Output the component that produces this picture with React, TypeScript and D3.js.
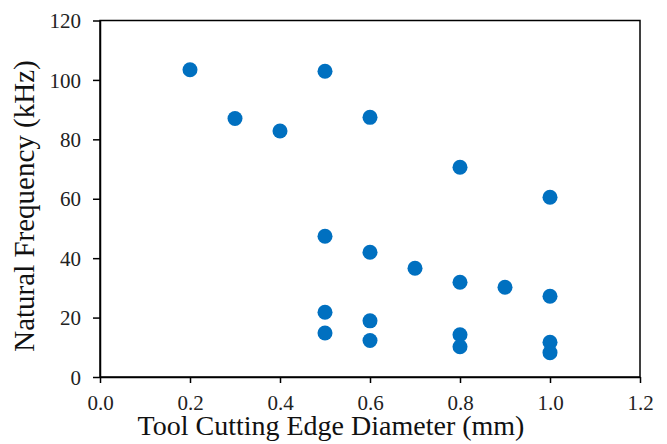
import { useEffect, useRef } from 'react'
import * as d3 from 'd3'

// tool cutting edge diameter (mm) and natural frequency (kHz)
const diameters = [0.2, 0.3, 0.4, 0.5, 0.6, 0.8, 1.0, 0.5, 0.6, 0.7, 0.8, 0.9, 1.0, 0.5, 0.5, 0.6, 0.6, 0.8, 0.8, 1.0, 1.0]
const frequencies = [103.4, 87, 82.8, 102.9, 87.4, 70.6, 60.5, 47.4, 42, 36.6, 31.9, 30.2, 27.2, 21.8, 14.8, 18.9, 12.3, 14.2, 10.2, 11.7, 8.2]
const xTicks = [0, 0.2, 0.4, 0.6, 0.8, 1.0, 1.2]
const yTicks = [0, 20, 40, 60, 80, 100, 120]

const W = 667
const H = 444
const margin = { left: 100, right: 27, top: 20.5, bottom: 67 }
const FONT = 'Liberation Serif, Times New Roman, serif'

export default function App() {
    const ref = useRef<SVGSVGElement>(null)

    useEffect(() => {
        const svg = d3.select(ref.current)
        svg.selectAll('*').remove()

        const x = d3.scaleLinear().domain([0, 1.2]).range([margin.left, W - margin.right])
        const y = d3.scaleLinear().domain([0, 120]).range([H - margin.bottom, margin.top])

        // frame
        svg.append('rect')
            .attr('x', x(0)).attr('y', y(120))
            .attr('width', x(1.2) - x(0)).attr('height', y(0) - y(120))
            .attr('fill', 'none').attr('stroke', '#000').attr('stroke-width', 1.5)

        const xAxis = svg.append('g')
            .attr('transform', `translate(0,${y(0)})`)
            .call(d3.axisBottom(x).tickValues(xTicks).tickFormat(d3.format('.1f')).tickSize(6).tickSizeOuter(0))
        const yAxis = svg.append('g')
            .attr('transform', `translate(${x(0)},0)`)
            .call(d3.axisLeft(y).tickValues(yTicks).tickFormat(d3.format('d')).tickSize(7).tickSizeOuter(0))

        for (const ax of [xAxis, yAxis]) {
            ax.style('font-family', FONT)
            ax.select('.domain').attr('stroke', '#000').attr('stroke-width', 1.5)
            ax.selectAll('line').attr('stroke', '#000').attr('stroke-width', 1.5)
            ax.selectAll('text').style('font-family', FONT).attr('font-size', 21).attr('fill', '#222')
        }
        xAxis.selectAll('text').attr('y', 33).attr('dy', 0)
        yAxis.selectAll('text').attr('x', -19).attr('dy', '0.34em')

        svg.append('g').selectAll('circle')
            .data(diameters.map((d, i) => [d, frequencies[i]]))
            .enter()
            .append('circle')
            .attr('cx', d => x(d[0]))
            .attr('cy', d => y(d[1]))
            .attr('r', 7.5)
            .attr('fill', '#0070C0')

        svg.append('text')
            .attr('x', 331)
            .attr('y', 435)
            .attr('text-anchor', 'middle')
            .style('font-family', FONT).attr('font-size', 28).attr('fill', '#111')
            .text('Tool Cutting Edge Diameter (mm)')

        svg.append('text')
            .attr('transform', `translate(34,206) rotate(-90)`)
            .attr('text-anchor', 'middle')
            .style('font-family', FONT).attr('font-size', 29).attr('fill', '#111')
            .text('Natural Frequency (kHz)')
    })

    return (
        <svg width={W} height={H} ref={ref}
             style={{ position: 'absolute', left: 0, top: 0, background: '#fff' }} />
    )
}
